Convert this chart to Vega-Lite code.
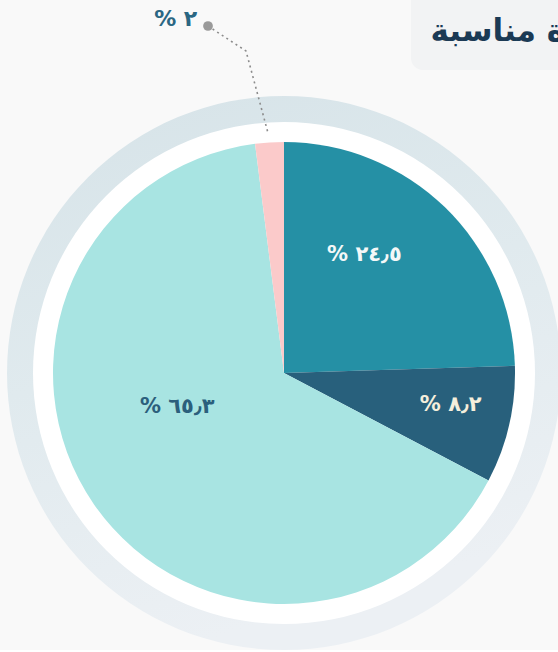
{
  "$schema": "https://vega.github.io/schema/vega-lite/v6.json",
  "width": 554,
  "height": 554,
  "autosize": {"type": "none"},
  "padding": {"left": 7, "top": 96, "right": 0, "bottom": 0},
  "background": "#f9f9f9",
  "config": {"view": {"stroke": null}},
  "datasets": {
    "shares": [
      {"k": "a", "order": 1, "value": 24.5, "label": "% ٢٤٫٥"},
      {"k": "b", "order": 2, "value": 8.2, "label": "% ٨٫٢"},
      {"k": "c", "order": 3, "value": 65.3, "label": "% ٦٥٫٣"},
      {"k": "d", "order": 4, "value": 2, "label": "% ٢"}
    ],
    "leader": [
      {"px": -76, "py": 347, "i": 1},
      {"px": -38, "py": 322, "i": 2},
      {"px": -16, "py": 240, "i": 3}
    ]
  },
  "layer": [
    {
      "data": {"values": [{}]},
      "mark": {
        "type": "arc", "theta": 0, "theta2": 6.2832, "radius": 277, "radius2": 0,
        "color": {"gradient": "linear", "x1": 0, "y1": 0, "x2": 0.3, "y2": 1,
          "stops": [{"offset": 0, "color": "#d6e3e8"}, {"offset": 0.5, "color": "#e0eaee"}, {"offset": 1, "color": "#ecf0f4"}]}
      },
      "encoding": {}
    },
    {
      "data": {"values": [{}]},
      "mark": {"type": "arc", "theta": 0, "theta2": 6.2832, "radius": 251, "radius2": 0, "color": "#ffffff"},
      "encoding": {}
    },
    {
      "data": {"name": "shares"},
      "mark": {"type": "arc", "radius": 231},
      "encoding": {
        "theta": {"field": "value", "type": "quantitative", "stack": true},
        "order": {"field": "order", "type": "quantitative"},
        "color": {"field": "k", "type": "nominal", "legend": null,
          "scale": {"domain": ["a", "b", "c", "d"], "range": ["#2590a5", "#28607c", "#a8e4e2", "#fbcaca"]}}
      }
    },
    {
      "data": {"name": "shares"},
      "mark": {"type": "text", "radius": 140, "dx": -17, "dy": -17, "font": "DejaVu Sans", "fontSize": 21, "fontWeight": "bold", "color": "#f4f8f8", "align": "center", "baseline": "middle"},
      "encoding": {
        "theta": {"field": "value", "type": "quantitative", "stack": true},
        "order": {"field": "order", "type": "quantitative"},
        "detail": {"field": "k"},
        "text": {"condition": {"test": "datum.k === 'a'", "field": "label"}, "value": ""}
      }
    },
    {
      "data": {"name": "shares"},
      "mark": {"type": "text", "radius": 169, "dx": 2, "dy": -6, "font": "DejaVu Sans", "fontSize": 21, "fontWeight": "bold", "color": "#f5efdc", "align": "center", "baseline": "middle"},
      "encoding": {
        "theta": {"field": "value", "type": "quantitative", "stack": true},
        "order": {"field": "order", "type": "quantitative"},
        "detail": {"field": "k"},
        "text": {"condition": {"test": "datum.k === 'b'", "field": "label"}, "value": ""}
      }
    },
    {
      "data": {"name": "shares"},
      "mark": {"type": "text", "radius": 108, "dx": -18, "dy": -28, "font": "DejaVu Sans", "fontSize": 21, "fontWeight": "bold", "color": "#2b5f7c", "align": "center", "baseline": "middle"},
      "encoding": {
        "theta": {"field": "value", "type": "quantitative", "stack": true},
        "order": {"field": "order", "type": "quantitative"},
        "detail": {"field": "k"},
        "text": {"condition": {"test": "datum.k === 'c'", "field": "label"}, "value": ""}
      }
    },
    {
      "data": {"name": "shares"},
      "mark": {"type": "text", "radius": 355, "dx": -86, "dy": 0, "font": "DejaVu Sans", "fontSize": 22, "fontWeight": "bold", "color": "#2b6783", "align": "center", "baseline": "middle"},
      "encoding": {
        "theta": {"field": "value", "type": "quantitative", "stack": true},
        "order": {"field": "order", "type": "quantitative"},
        "detail": {"field": "k"},
        "text": {"condition": {"test": "datum.k === 'd'", "field": "label"}, "value": ""}
      }
    },
    {
      "data": {"values": [{}]},
      "mark": {"type": "rect", "color": "#f2f3f4", "cornerRadius": 12},
      "encoding": {
        "x": {"datum": 127, "type": "quantitative", "scale": {"domain": [-277, 277], "nice": false, "zero": false}, "axis": null},
        "x2": {"datum": 330},
        "y": {"datum": 393, "type": "quantitative", "scale": {"domain": [-277, 277], "nice": false, "zero": false}, "axis": null},
        "y2": {"datum": 303}
      }
    },
    {
      "data": {"values": [{"t": "ة مناسبة"}]},
      "mark": {"type": "text", "font": "DejaVu Sans", "fontSize": 31, "fontWeight": "bold", "color": "#1b3a55", "align": "right", "baseline": "middle"},
      "encoding": {
        "x": {"datum": 281, "type": "quantitative", "scale": {"domain": [-277, 277], "nice": false, "zero": false}, "axis": null},
        "y": {"datum": 341, "type": "quantitative", "scale": {"domain": [-277, 277], "nice": false, "zero": false}, "axis": null},
        "text": {"field": "t"}
      }
    },
    {
      "data": {"name": "leader"},
      "mark": {"type": "line", "color": "#8c8c8c", "strokeWidth": 1.6, "strokeDash": [2, 3.5]},
      "encoding": {
        "x": {"field": "px", "type": "quantitative", "scale": {"domain": [-277, 277], "nice": false, "zero": false}, "axis": null},
        "y": {"field": "py", "type": "quantitative", "scale": {"domain": [-277, 277], "nice": false, "zero": false}, "axis": null},
        "order": {"field": "i", "type": "quantitative"}
      }
    },
    {
      "data": {"name": "leader"},
      "transform": [{"filter": "datum.i === 1"}],
      "mark": {"type": "point", "filled": true, "opacity": 1, "color": "#9a9a9a", "size": 95},
      "encoding": {
        "x": {"field": "px", "type": "quantitative", "scale": {"domain": [-277, 277], "nice": false, "zero": false}, "axis": null},
        "y": {"field": "py", "type": "quantitative", "scale": {"domain": [-277, 277], "nice": false, "zero": false}, "axis": null}
      }
    }
  ]
}
